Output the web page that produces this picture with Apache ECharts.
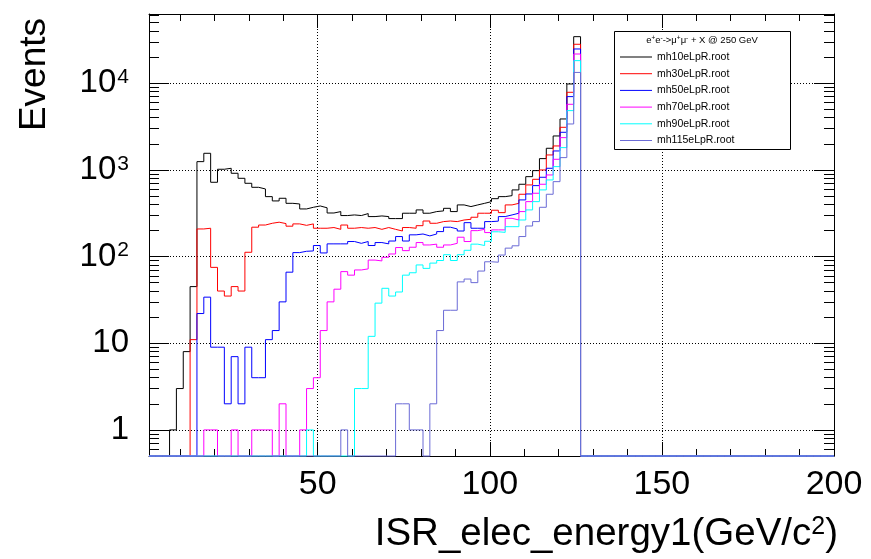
<!DOCTYPE html>
<html><head><meta charset="utf-8">
<script src="https://cdn.jsdelivr.net/npm/echarts@6/dist/echarts.min.js"></script>
<style>html,body{margin:0;padding:0;background:#fff}#c{width:871px;height:559px}</style>
</head><body><div id="c"></div>
<script>
// Histogram binning: 100 bins from 1 to 200 GeV
const nBins = 100, xLow = 1, xHigh = 200;
const seriesNames = ['mh10eLpR.root','mh30eLpR.root','mh50eLpR.root','mh70eLpR.root','mh90eLpR.root','mh115eLpR.root'];
const seriesColors = ['#000000','#ff0000','#0000ff','#ff00ff','#00ffff','#6b6bd6'];

const mh10 = [0,0,0,1,3,8,45,1244,1553,719, 1016,1043,913,799,700,629,602,491,438,470,
  411,404,354,370,383,365,318,330,297,302, 297,313,289,294,289,274,274,316,316,345,
  316,330,336,360,330,394,377,394,411,430, 465,491,504,587,682,835,980,1348,1774,2460,
  3864,9790,34400,0,0,0,0,0,0,0, 0,0,0,0,0,0,0,0,0,0, 0,0,0,0,0,0,0,0,0,0, 0,0,0,0,0,0,0,0,0,0];
const mh30 = [0,0,0,0,0,0,11,208,212,75, 40,35,45,40,112,218,231,242,249,240,
  224,238,229,238,212,212,216,206,231,212, 216,212,216,206,216,206,197,216,212,227,
  257,242,253,257,253,264,269,284,316,316, 342,321,394,411,523,670,778,997,1485,1887,
  3097,7850,28100,0,0,0,0,0,0,0, 0,0,0,0,0,0,0,0,0,0, 0,0,0,0,0,0,0,0,0,0, 0,0,0,0,0,0,0,0,0,0];
const mh50 = [0,0,0,0,0,0,0,22,34,9, 9,2,7,2,9,4,4,11,14,30,
  66,111,115,116,134,110,140,140,140,149, 142,149,134,145,140,151,170,151,178,182,
  173,182,194,218,208,197,246,212,212,253, 256,289,302,316,450,527,658,821,1043,1652,
  2712,6996,24800,0,0,0,0,0,0,0, 0,0,0,0,0,0,0,0,0,0, 0,0,0,0,0,0,0,0,0,0, 0,0,0,0,0,0,0,0,0,0];
const mh70 = [0,0,0,0,0,0,0,0,1,1, 0,0,1,0,0,1,1,1,0,2,
  0,0,1,3,4,14,30,42,67,61, 70,72,91,89,98,107,127,117,128,145,
  136,139,128,136,142,167,149,199,206,189, 203,203,276,264,330,430,537,682,873,1324,
  2353,5706,21700,0,0,0,0,0,0,0, 0,0,0,0,0,0,0,0,0,0, 0,0,0,0,0,0,0,0,0,0, 0,0,0,0,0,0,0,0,0,0];
const mh90 = [0,0,0,0,0,0,0,0,0,0, 0,0,0,0,0,0,0,0,0,0,
  0,0,0,1,0,0,0,0,0,0, 3,3,12,29,43,35,39,61,65,80,
  73,84,90,105,90,105,118,139,134,150, 193,190,221,221,264,345,430,587,765,1090,
  1805,4823,18200,0,0,0,0,0,0,0, 0,0,0,0,0,0,0,0,0,0, 0,0,0,0,0,0,0,0,0,0, 0,0,0,0,0,0,0,0,0,0];
const mh115 = [0,0,0,0,0,0,0,0,0,0, 0,0,0,0,0,0,0,0,0,0,
  0,0,0,0,0,0,0,0,1,0, 0,0,0,0,0,0,2,2,1,1,
  0,2,14,24,24,51,55,50,68,87, 86,104,125,133,170,225,253,370,523,731,
  1384,3383,13300,0,0,0,0,0,0,0, 0,0,0,0,0,0,0,0,0,0, 0,0,0,0,0,0,0,0,0,0, 0,0,0,0,0,0,0,0,0,0];
const allSeries = [mh10, mh30, mh50, mh70, mh90, mh115];

const xMajorTicks = [50,100,150];
const xMinorTicks = [10,20,30,40,60,70,80,90,110,120,130,140,160,170,180,190];
const xTickLabels = [50,100,150,200];
const yMin = 0.5, yMax = 62800;
const yMajorTicks = [1,10,100,1000,10000];
const yMinorTicks = [0.6,0.7,0.8,0.9,2,3,4,5,6,7,8,9,20,30,40,50,60,70,80,90,
  200,300,400,500,600,700,800,900,2000,3000,4000,5000,6000,7000,8000,9000,
  20000,30000,40000,50000,60000];
const legendTitle = 'e{s|+}e{s|-}->μ{s|+}μ{s|-} + X @ 250 GeV';
const xTitle = 'ISR_elec_energy1(GeV/c{s|2})';
const yTitle = 'Events';

const FONT = 'Liberation Sans';
const L = Math.log10;

function toSteps(vals) {
  const w = (xHigh - xLow) / nBins;
  const pts = vals.map((v, i) => [xLow + i * w, v > 0 ? v : yMin]);
  const last = vals[vals.length - 1];
  pts.push([xHigh, last > 0 ? last : yMin]);
  return pts;
}

function yLabel(v) {
  const e = Math.log10(v), r = Math.round(e);
  if (Math.abs(e - r) > 1e-6) return '';
  if (r === 0) return '1';
  if (r === 1) return '10';
  return '10{s|' + r + '}';
}

const black = '#000';
const chart = echarts.init(document.getElementById('c'), null, {renderer: 'canvas'});
const tickStyle = {color: black, width: 1};
const dotted = {show: true, lineStyle: {color: black, width: 1, type: [1, 2]}};
const noLine = {show: false, onZero: false};

const option = {
  animation: false,
  backgroundColor: '#fff',
  grid: {left: 149, right: 37, top: 14, bottom: 103, containLabel: false},
  xAxis: [
    {type: 'value', min: xLow, max: xHigh, position: 'bottom',
     axisLine: {show: true, onZero: false, lineStyle: tickStyle},
     axisTick: {show: true, inside: true, length: 14, customValues: xMajorTicks, lineStyle: tickStyle},
     axisLabel: {show: true, customValues: xTickLabels, margin: 12, fontFamily: FONT, fontSize: 34, color: black, showMaxLabel: true},
     splitLine: dotted},
    {type: 'value', min: xLow, max: xHigh, position: 'bottom',
     axisLine: noLine, axisLabel: {show: false}, splitLine: {show: false},
     axisTick: {show: true, inside: true, length: 7, customValues: xMinorTicks, lineStyle: tickStyle}},
    {type: 'value', min: xLow, max: xHigh, position: 'top',
     axisLine: {show: true, onZero: false, lineStyle: tickStyle}, axisLabel: {show: false}, splitLine: {show: false},
     axisTick: {show: true, inside: true, length: 14, customValues: xMajorTicks, lineStyle: tickStyle}},
    {type: 'value', min: xLow, max: xHigh, position: 'top',
     axisLine: noLine, axisLabel: {show: false}, splitLine: {show: false},
     axisTick: {show: true, inside: true, length: 7, customValues: xMinorTicks, lineStyle: tickStyle}}
  ],
  yAxis: [
    {type: 'log', logBase: 10, min: yMin, max: yMax, position: 'left',
     axisLine: {show: true, onZero: false, lineStyle: tickStyle},
     axisTick: {show: true, inside: true, length: 20, lineStyle: tickStyle},
     axisLabel: {show: true, formatter: yLabel, margin: 20, fontFamily: FONT, fontSize: 33, color: black,
       rich: {s: {fontFamily: FONT, fontSize: 21, color: black, verticalAlign: 'top', padding: [0, 0, 0, 1]}}},
     splitLine: dotted},
    {type: 'value', min: L(yMin), max: L(yMax), position: 'left',
     axisLine: noLine, axisLabel: {show: false}, splitLine: {show: false},
     axisTick: {show: true, inside: true, length: 10, customValues: yMinorTicks.map(L), lineStyle: tickStyle}},
    {type: 'value', min: L(yMin), max: L(yMax), position: 'right',
     axisLine: {show: true, onZero: false, lineStyle: tickStyle}, axisLabel: {show: false}, splitLine: {show: false},
     axisTick: {show: true, inside: true, length: 20, customValues: yMajorTicks.map(L), lineStyle: tickStyle}},
    {type: 'value', min: L(yMin), max: L(yMax), position: 'right',
     axisLine: noLine, axisLabel: {show: false}, splitLine: {show: false},
     axisTick: {show: true, inside: true, length: 10, customValues: yMinorTicks.map(L), lineStyle: tickStyle}}
  ],
  legend: {
    orient: 'vertical', left: 620, top: 51, padding: 0, itemGap: 4.7,
    icon: 'rect', itemWidth: 32, itemHeight: 1,
    textStyle: {fontFamily: FONT, fontSize: 10.5, color: black, lineHeight: 12},
    data: seriesNames
  },
  graphic: [
    {type: 'rect', z: 3, shape: {x: 614.5, y: 31.5, width: 176, height: 118},
     style: {fill: '#fff', stroke: black, lineWidth: 1}},
    {type: 'text', z: 5, x: 702, y: 40,
     style: {text: legendTitle, fontFamily: FONT, fontSize: 9.5, fill: black, align: 'center', verticalAlign: 'middle',
       textAlign: 'center', textVerticalAlign: 'middle',
       rich: {s: {fontFamily: FONT, fontSize: 6.5, fill: black, verticalAlign: 'top'}}}},
    {type: 'text', z: 5, x: 838, y: 534,
     style: {text: xTitle, fontFamily: FONT, fontSize: 38.5, fill: black, align: 'right', verticalAlign: 'middle',
       textAlign: 'right', textVerticalAlign: 'middle',
       rich: {s: {fontFamily: FONT, fontSize: 25, fill: black, verticalAlign: 'top'}}}},
    {type: 'text', z: 5, x: 35, y: 18, rotation: Math.PI / 2,
     style: {text: yTitle, fontFamily: FONT, fontSize: 37, fill: black, align: 'right', verticalAlign: 'middle',
       textAlign: 'right', textVerticalAlign: 'middle'}}
  ],
  series: allSeries.map((vals, i) => ({
    name: seriesNames[i], type: 'line', step: 'end', xAxisIndex: 0, yAxisIndex: 0,
    data: toSteps(vals), showSymbol: false, symbol: 'none', clip: false,
    lineStyle: {color: seriesColors[i], width: 1}, itemStyle: {color: seriesColors[i]},
    emphasis: {disabled: true}
  }))
};
chart.setOption(option);
</script></body></html>
